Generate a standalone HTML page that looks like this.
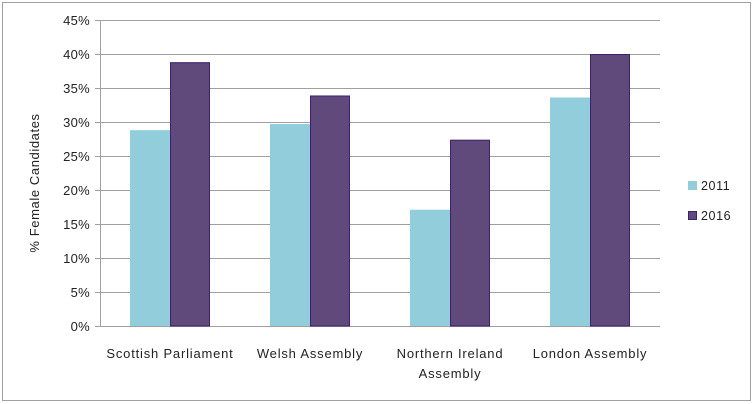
<!DOCTYPE html>
<html><head><meta charset="utf-8"><style>
html,body{margin:0;padding:0;background:#fff;}
svg{display:block;font-family:"Liberation Sans",sans-serif;}
</style></head><body>
<svg id="chart" width="754" height="404">
<rect x="2.5" y="2.5" width="748" height="398" fill="#fff" stroke="#a0a0a0"/>
<g id="grid"></g><g id="bars"></g><g id="labels"></g>
<text transform="translate(39,183) rotate(-90)" text-anchor="middle" font-size="13" letter-spacing="0.6" fill="#222">% Female Candidates</text>
<g>
<rect x="688" y="181" width="9" height="9" fill="#92cddc"/>
<text x="701" y="190" font-size="12.5" letter-spacing="0.6" fill="#222">2011</text>
<rect x="688.5" y="211.5" width="8" height="8" fill="#604a7b" stroke="#3f1f6f"/>
<text x="701" y="220" font-size="12.5" letter-spacing="0.6" fill="#222">2016</text>
</g>
</svg>
<script>
const categories=[["Scottish Parliament"],["Welsh Assembly"],["Northern Ireland","Assembly"],["London Assembly"]];
const values2011=[28.8,29.7,17.1,33.6];
const values2016=[38.8,33.9,27.4,40.0];
const yTicks=[0,5,10,15,20,25,30,35,40,45];
const NS="http://www.w3.org/2000/svg";
const L=100,R=660,T=20,B=326,yMax=45;
const y=v=>B-(v/yMax)*(B-T);
const band=(R-L)/categories.length;
const x=i=>L+band*(i+0.5);
function mk(tag,attrs,parent){const e=document.createElementNS(NS,tag);for(const k in attrs)e.setAttribute(k,attrs[k]);parent.appendChild(e);return e;}
const grid=document.getElementById('grid'),bars=document.getElementById('bars'),labels=document.getElementById('labels');
yTicks.forEach(t=>{
 const g=mk('line',{x1:L-5,x2:R,y1:y(t)+0.5,y2:y(t)+0.5,stroke:'#a0a0a0'},grid);
 
 
 const tx=mk('text',{x:L-10,y:y(t)+5,'text-anchor':'end','font-size':13,'letter-spacing':0.3,fill:'#222'},labels);
 tx.textContent=t+'%';
 
 
});
const ax=mk('line',{x1:L+0.5,x2:L+0.5,y1:T,y2:B,stroke:'#a0a0a0'},grid);


const bw=40;
categories.forEach((c,i)=>{
 const cx=x(i);
 const b1=mk('rect',{x:cx-bw,y:y(values2011[i]),width:bw,height:B-y(values2011[i]),fill:'#92cddc'},bars);
 
 
 const b2=mk('rect',{x:cx+0.5,y:y(values2016[i])+0.5,width:bw-1,height:B-y(values2016[i])-0.5,fill:'#604a7b',stroke:'#3f1f6f','stroke-width':1},bars);
 
 
 c.forEach((line,j)=>{
  const t=mk('text',{x:cx,y:358+j*20,'text-anchor':'middle','font-size':13,'letter-spacing':0.8,fill:'#222'},labels);
  t.textContent=line;
  
  
 });
});
</script>
</body></html>
